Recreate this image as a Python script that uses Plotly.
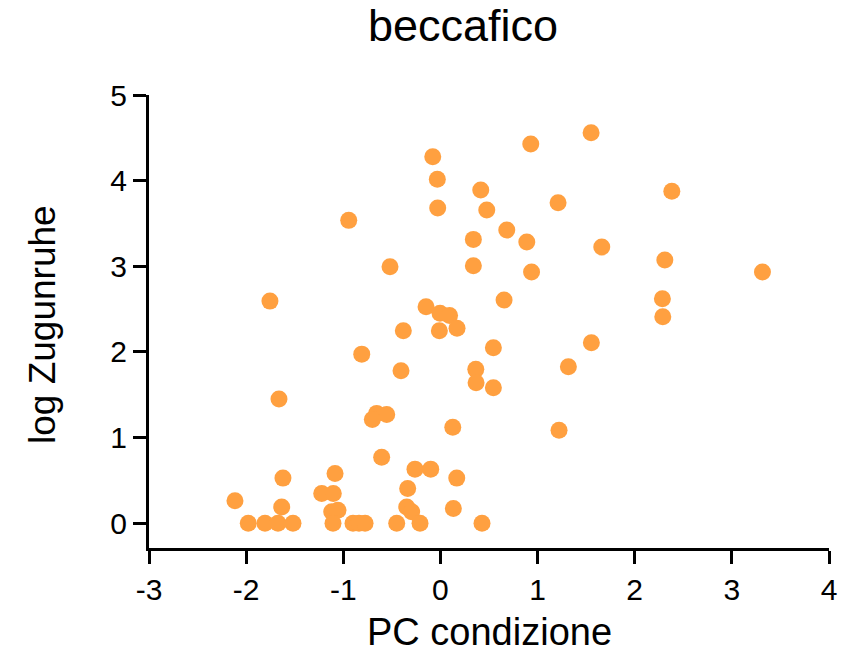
import plotly.graph_objects as go

pc_condizione = [
    1.551, 0.930, -0.079, -0.032, 0.415, 2.382, 1.211, 0.477, -0.028, -0.944,
    0.683, 0.339, 0.889, 1.661, 2.310, -0.519, 0.339, 0.938, 3.315, -1.755,
    0.655, 2.285, 2.289, -0.148, -0.004, 0.094, -0.382, -0.011, 0.171, 1.554,
    -0.810, 0.545, -0.406, 0.364, 1.317, 0.367, 0.545, -1.662, -0.656, -0.553,
    -0.701, 0.127, 1.221, -0.605, -2.115, -1.621, -1.085, -1.222, -1.103, -0.262,
    -0.100, 0.168, -0.337, -1.634, -1.119, -1.055, -0.347, -0.296, 0.133,
    -1.978, -1.806, -1.672, -1.518, -1.106, -0.900, -0.838, -0.776, -0.450, -0.210, 0.428,
]
log_zugunruhe = [
    4.560, 4.428, 4.279, 4.015, 3.890, 3.875, 3.742, 3.657, 3.680, 3.536,
    3.423, 3.314, 3.283, 3.224, 3.072, 2.994, 3.006, 2.932, 2.932, 2.593,
    2.605, 2.620, 2.410, 2.527, 2.450, 2.424, 2.246, 2.246, 2.275, 2.106,
    1.974, 2.048, 1.779, 1.796, 1.826, 1.639, 1.581, 1.449, 1.282, 1.270,
    1.211, 1.121, 1.086, 0.771, 0.263, 0.526, 0.581, 0.347, 0.347, 0.631,
    0.631, 0.526, 0.405, 0.190, 0.132, 0.152, 0.190, 0.132, 0.172,
    0.0, 0.0, 0.0, 0.0, 0.0, 0.0, 0.0, 0.0, 0.0, 0.0, 0.0,
]
x_ticks = [-3, -2, -1, 0, 1, 2, 3, 4]
y_ticks = [0, 1, 2, 3, 4, 5]
x_title = "PC condizione"
y_title = "log Zugunruhe"
chart_title = "beccafico"

FONT = "Arial, Liberation Sans, Arimo, sans-serif"

# page has an 8px body margin; figure is sized/positioned to compensate
W, H = 839, 642

fig = go.Figure()
fig.add_trace(go.Scatter(
    x=pc_condizione, y=log_zugunruhe, mode="markers",
    marker=dict(size=17, color="#FFA040", line=dict(width=0)),
    cliponaxis=False, showlegend=False,
))

axis_common = dict(
    showline=True, linewidth=3, linecolor="black", ticks="outside",
    ticklen=13, tickwidth=3, tickcolor="black", showgrid=False, zeroline=False,
    tickfont=dict(family=FONT, size=30, color="black"), automargin=False,
)
fig.update_xaxes(range=[-3, 4], tickvals=x_ticks, ticktext=[str(v) for v in x_ticks], **axis_common)
fig.update_yaxes(range=[-0.29, 5], tickvals=y_ticks, ticktext=[str(v) for v in y_ticks], **axis_common)

# plot area (page px): x 149..829, y 95..548
fig.add_annotation(text=x_title, xref="paper", yref="paper", x=0.5, y=(548 - 632) / 453,
                   xanchor="center", yanchor="middle", showarrow=False,
                   font=dict(family=FONT, size=38, color="black"))
fig.add_annotation(text=y_title, xref="paper", yref="paper", x=(42 - 149) / 680, y=(548 - 325) / 453,
                   xanchor="center", yanchor="middle", textangle=-90, showarrow=False,
                   font=dict(family=FONT, size=37, color="black"))

fig.update_layout(
    width=W, height=H,
    margin=dict(l=141, r=18, t=87, b=102),
    paper_bgcolor="white", plot_bgcolor="white",
    title=dict(text=chart_title, font=dict(family=FONT, size=45, color="black"),
               x=455 / W, xanchor="center", xref="container",
               y=1 - 17 / H, yanchor="middle", yref="container", automargin=False),
)

fig.write_html("out.html")
